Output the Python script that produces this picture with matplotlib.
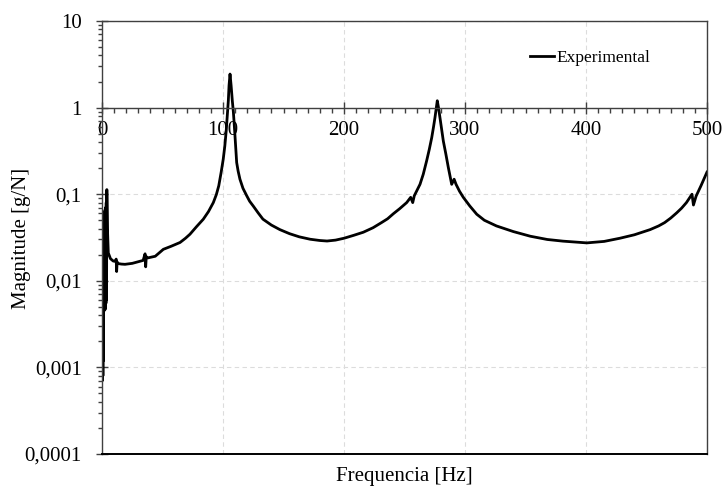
import matplotlib
matplotlib.use('Agg')
import matplotlib.pyplot as plt
from matplotlib.ticker import FixedLocator, MultipleLocator, LogLocator, NullFormatter

# ---- data ----
freq_low = [0.0, 0.25, 0.5, 0.75, 1.0, 1.25, 1.5, 1.75, 2.0, 2.25, 2.5, 2.75, 3.0, 3.25,
            3.5, 3.75, 4.0, 4.5, 5.2, 7.0, 9.3, 11.0, 11.7, 12.1, 12.5, 13.5, 16.0, 19.0,
            25.0, 30.0, 34.0, 35.6, 36.1, 36.6, 38.0, 44.0]
mag_low = [0.0009, 0.0007, 0.003, 0.0008, 0.0046, 0.0012, 0.05, 0.0045, 0.062, 0.005,
           0.066, 0.0047, 0.07, 0.0055, 0.08, 0.006, 0.113, 0.04, 0.021, 0.018, 0.0169,
           0.0168, 0.0178, 0.0128, 0.0165, 0.0158, 0.0156, 0.0155, 0.0159, 0.0166,
           0.0172, 0.0205, 0.0145, 0.019, 0.0184, 0.0192]

freq_mode1 = [50.7, 57, 64.5, 69, 72.7, 78, 83.7, 88, 92, 94.5, 96.5, 98.5, 100.2, 101.5,
              102.7, 103.7, 104.4, 105.0, 105.8, 106.7, 107.7, 108.6, 109.6, 110.4, 111.3,
              112.5, 114, 116.5, 119.6, 122, 125, 129, 133, 140, 147, 155, 163, 172, 180,
              186, 193, 200, 208, 216, 224, 231, 236, 240.8, 246, 251.8]
mag_mode1 = [0.0231, 0.025, 0.0277, 0.031, 0.0345, 0.042, 0.0514, 0.063, 0.080, 0.099,
             0.125, 0.18, 0.254, 0.36, 0.55, 0.88, 1.2, 1.8, 2.44, 1.8, 1.2, 0.88, 0.55,
             0.36, 0.232, 0.185, 0.149, 0.117, 0.096, 0.083, 0.073, 0.061, 0.0515, 0.044,
             0.039, 0.035, 0.0322, 0.0302, 0.0292, 0.0288, 0.0295, 0.031, 0.0335, 0.0364,
             0.041, 0.047, 0.052, 0.0595, 0.068, 0.080]

freq_mode2 = [255.1, 256.8, 258.1, 262.8, 265.5, 268.3, 270.5, 272.5, 274, 275.2, 276.3,
              277.1, 278.2, 279.3, 280.7, 282.1, 284.2, 286.2, 287.7, 289, 291, 292.6,
              295.5, 298.6]
mag_mode2 = [0.092, 0.080, 0.096, 0.13, 0.17, 0.243, 0.33, 0.45, 0.6, 0.77, 1.0, 1.2,
             0.98, 0.77, 0.56, 0.41, 0.29, 0.204, 0.16, 0.13, 0.149, 0.13, 0.108, 0.092]

freq_high = [304, 309.7, 316, 326, 340, 354, 368, 381, 400.7, 415, 428, 440, 453, 460,
             465, 470, 475, 479, 483, 487.6, 488.8, 491, 495, 500]
mag_high = [0.073, 0.0587, 0.050, 0.043, 0.037, 0.0327, 0.030, 0.0287, 0.0274, 0.0285,
            0.031, 0.034, 0.039, 0.043, 0.047, 0.053, 0.061, 0.069, 0.08, 0.1, 0.075,
            0.095, 0.125, 0.18]

y_ticks = [1e-4, 1e-3, 1e-2, 1e-1, 1, 10]
y_tick_labels = ["0,0001", "0,001", "0,01", "0,1", "1", "10"]
x_ticks = [0, 100, 200, 300, 400, 500]
series_label = "Experimental"

freq = freq_low + freq_mode1 + freq_mode2 + freq_high
mag = mag_low + mag_mode1 + mag_mode2 + mag_high

# ---- figure ----
plt.rcParams['font.family'] = ['Liberation Serif', 'DejaVu Serif']
fig = plt.figure(figsize=(7.22, 4.86), dpi=100)
ax = fig.add_axes([102/722, 1 - 454/486, 605/722, 433/486])

ax.plot(freq, mag, color='black', lw=2.0, label=series_label, solid_joinstyle='round')

ax.set_yscale('log')
ax.set_ylim(1e-4, 10)
ax.set_xlim(0, 500)

ax.yaxis.set_major_locator(FixedLocator(y_ticks))
ax.set_yticklabels(y_tick_labels)
ax.yaxis.set_minor_locator(LogLocator(base=10, subs=range(2, 10), numticks=20))
ax.yaxis.set_minor_formatter(NullFormatter())

ax.xaxis.set_major_locator(FixedLocator(x_ticks))
ax.set_xticklabels([str(v) for v in x_ticks])
ax.xaxis.set_minor_locator(MultipleLocator(10))

spine_col = '#404040'
ax.spines['bottom'].set_position(('data', 1))
for s in ['bottom', 'top', 'left', 'right']:
    ax.spines[s].set_color(spine_col)
    ax.spines[s].set_linewidth(1.0)
ax.axhline(1e-4, color='black', lw=1.4, clip_on=False, zorder=3)

ax.tick_params(axis='x', which='major', direction='inout', length=9, width=1,
               color=spine_col, labelsize=15, pad=5)
ax.tick_params(axis='x', which='minor', direction='out', length=3.5, width=1,
               color=spine_col)
ax.tick_params(axis='y', which='major', direction='inout', length=9, width=1,
               color=spine_col, labelsize=15, pad=10)
ax.tick_params(axis='y', which='minor', direction='out', length=3.2, width=1,
               color=spine_col)

ax.grid(True, which='major', axis='both', linestyle=(0, (4, 3)), color='#dcdcdc', lw=0.8)
ax.set_axisbelow(True)

leg = ax.legend(loc='center left', bbox_to_anchor=((530 - 102) / 605, (454 - 58) / 433),
                frameon=False, fontsize=12.5, handlelength=1.4, handletextpad=0.15,
                borderpad=0, borderaxespad=0)

fig.text(22/722, 1 - 238/486, "Magnitude [g/N]", rotation=90, ha='center', va='center',
         fontsize=15)
fig.text(404/722, 1 - 476/486, "Frequencia [Hz]", ha='center', va='center', fontsize=15)

fig.savefig('out.png', dpi=100)
